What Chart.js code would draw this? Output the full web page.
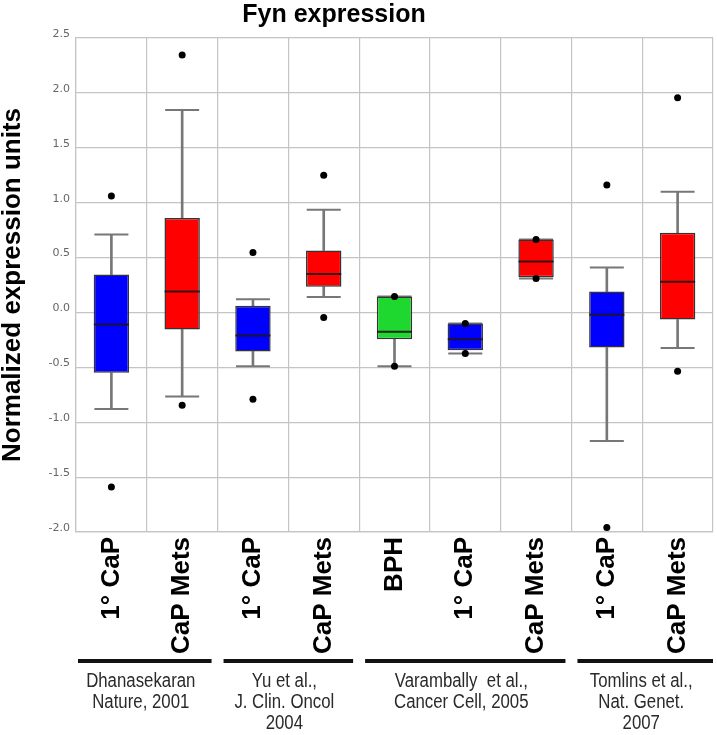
<!DOCTYPE html>
<html lang="en">
<head>
    <meta charset="UTF-8">
    <script src="https://cdn.jsdelivr.net/npm/chart.js@4.4.0/dist/chart.umd.min.js"></script>
    <title>Fyn expression</title>
    <style>
        html, body { margin: 0; padding: 0; background: #fff; }
        #wrap { width: 717px; height: 735px; }
    </style>
</head>
<body>
    <div id="wrap"><canvas id="chart" width="717" height="735"></canvas></div>
    <script>

        // data
        const categories = ['1° CaP', 'CaP Mets', '1° CaP', 'CaP Mets', 'BPH', '1° CaP', 'CaP Mets', '1° CaP', 'CaP Mets'];
        const sampleType = ['primary', 'mets', 'primary', 'mets', 'bph', 'primary', 'mets', 'primary', 'mets'];
        const whiskerLow  = [-0.88, -0.765, -0.49, 0.14, -0.49, -0.375, 0.31, -1.17, -0.325];
        const q1          = [-0.55, -0.155, -0.355, 0.235, -0.245, -0.345, 0.32, -0.32, -0.065];
        const median      = [-0.11, 0.19, -0.21, 0.35, -0.175, -0.245, 0.465, -0.02, 0.28];
        const q3          = [0.345, 0.86, 0.06, 0.565, 0.145, -0.10, 0.665, 0.19, 0.725];
        const whiskerHigh = [0.71, 1.845, 0.12, 0.935, 0.145, -0.10, 0.665, 0.41, 1.10];
        const outlierHigh = [1.06, 2.345, 0.545, 1.25, 0.145, -0.10, 0.665, 1.16, 1.955];
        const outlierLow  = [-1.59, -0.845, -0.79, -0.045, -0.49, -0.375, 0.31, -1.96, -0.535];
        const yTicks = [-2.0, -1.5, -1.0, -0.5, 0.0, 0.5, 1.0, 1.5, 2.0, 2.5];
        const studies = [
            ['Dhanasekaran', 'Nature, 2001'],
            ['Yu et al.,', 'J. Clin. Oncol', '2004'],
            ['Varambally  et al.,', 'Cancer Cell, 2005'],
            ['Tomlins et al.,', 'Nat. Genet.', '2007']
        ];
        const studySize = [2, 2, 3, 2];

        const typeColor = { primary: '#0000ff', mets: '#ff0000', bph: '#1fd82f' };
        const whiskerColor = '#777777';
        const gridColor = '#c4c4c4';
        const boldFont = "'Liberation Sans', Arial, sans-serif";

        // title drawn by hand so it can sit left of centre like the original
        const titlePlugin = {
            id: 'fynTitle',
            afterDraw(chart) {
                const ctx = chart.ctx;
                ctx.save();
                ctx.font = 'bold 25px ' + boldFont;
                ctx.fillStyle = '#000';
                ctx.textAlign = 'center';
                ctx.textBaseline = 'alphabetic';
                ctx.fillText('Fyn expression', 334, 22);
                ctx.restore();
            }
        };

        // study bars + citation text under the x labels
        const studyPlugin = {
            id: 'studies',
            afterDraw(chart) {
                const ctx = chart.ctx;
                const x = chart.scales.x;
                const bottom = chart.chartArea.bottom;
                const half = (x.getPixelForValue(1) - x.getPixelForValue(0)) / 2;
                const squeeze = 0.84;   // narrow-looking font
                ctx.save();
                let start = 0;
                studies.forEach((lines, g) => {
                    const end = start + studySize[g] - 1;
                    const left = x.getPixelForValue(start) - half + (start === 0 ? 2 : 6);
                    const right = x.getPixelForValue(end) + half - (end === categories.length - 1 ? 0 : 6);
                    ctx.fillStyle = '#111';
                    ctx.fillRect(left, bottom + 127, right - left, 4);
                    const cx = (left + right) / 2 - 4;
                    ctx.save();
                    ctx.scale(squeeze, 1);
                    ctx.font = "20px 'Liberation Sans', Arial, sans-serif";
                    ctx.fillStyle = '#2a2a2a';
                    ctx.textAlign = 'center';
                    ctx.textBaseline = 'alphabetic';
                    lines.forEach((t, i) => ctx.fillText(t, cx / squeeze, bottom + 155 + i * 21));
                    ctx.restore();
                    start = end + 1;
                });
                ctx.restore();
            }
        };

        const boxColors = sampleType.map(t => typeColor[t]);

        const ctx = document.getElementById('chart').getContext('2d');
        const chart = new Chart(ctx, {
            type: 'bar',
            data: {
                labels: categories.map((c, i) => String(i)),
                datasets: [
                    {
                        label: 'outliers high',
                        type: 'line',
                        data: outlierHigh,
                        showLine: false,
                        pointRadius: 3.5,
                        pointBackgroundColor: '#000',
                        pointBorderWidth: 0,
                        order: 0
                    },
                    {
                        label: 'outliers low',
                        type: 'line',
                        data: outlierLow,
                        showLine: false,
                        pointRadius: 3.5,
                        pointBackgroundColor: '#000',
                        pointBorderWidth: 0,
                        order: 0
                    },
                    {
                        label: 'median',
                        type: 'line',
                        data: median,
                        showLine: false,
                        pointStyle: 'line',
                        pointRadius: 17.5,
                        pointBorderColor: 'rgba(30,20,20,0.9)',
                        pointBorderWidth: 2,
                        order: 1
                    },
                    {
                        label: 'box',
                        data: q1.map((v, i) => [v, q3[i]]),
                        backgroundColor: boxColors,
                        borderColor: '#333',
                        borderWidth: 1.5,
                        borderSkipped: false,
                        grouped: false,
                        barPercentage: 0.5,
                        categoryPercentage: 1,
                        order: 2
                    },
                    {
                        label: 'lower whisker',
                        data: whiskerLow.map((v, i) => [v, q1[i]]),
                        backgroundColor: whiskerColor,
                        barThickness: 2,
                        grouped: false,
                        order: 3
                    },
                    {
                        label: 'upper whisker',
                        data: q3.map((v, i) => [v, whiskerHigh[i]]),
                        backgroundColor: whiskerColor,
                        barThickness: 2,
                        grouped: false,
                        order: 3
                    },
                    {
                        label: 'lower cap',
                        type: 'line',
                        data: whiskerLow,
                        showLine: false,
                        pointStyle: 'line',
                        pointRadius: 17,
                        pointBorderColor: whiskerColor,
                        pointBorderWidth: 2,
                        order: 4
                    },
                    {
                        label: 'upper cap',
                        type: 'line',
                        data: whiskerHigh,
                        showLine: false,
                        pointStyle: 'line',
                        pointRadius: 17,
                        pointBorderColor: whiskerColor,
                        pointBorderWidth: 2,
                        order: 4
                    }
                ]
            },
            options: {
                responsive: false,
                animation: false,
                events: [],
                layout: { autoPadding: false, padding: { top: 38, right: 4, left: 0, bottom: 0 } },
                plugins: {
                    legend: { display: false },
                    tooltip: { enabled: false }
                },
                scales: {
                    x: {
                        offset: true,
                        afterFit(scale) {
                            scale.height = 203;
                            scale.paddingLeft = 0;
                            scale.paddingRight = 0;
                        },
                        grid: { color: gridColor, lineWidth: 1.2, drawTicks: false, offset: true },
                        border: { color: gridColor, width: 1.2 },
                        ticks: {
                            autoSkip: false,
                            maxRotation: 90,
                            minRotation: 90,
                            padding: 5,
                            color: '#000',
                            font: { family: boldFont, size: 26, weight: 'bold' },
                            callback: (v, i) => categories[i]
                        }
                    },
                    y: {
                        min: yTicks[0],
                        max: yTicks[yTicks.length - 1],
                        afterFit(scale) { scale.width = 76; },
                        afterBuildTicks(scale) { scale.ticks = yTicks.map(v => ({ value: v })); },
                        grid: { color: gridColor, lineWidth: 1.2, drawTicks: false },
                        border: { color: gridColor, width: 1.2 },
                        ticks: {
                            padding: 6,
                            labelOffset: -4,
                            color: '#666',
                            font: { family: "'DejaVu Sans', Verdana, sans-serif", size: 11 },
                            callback: v => Number(v).toFixed(1)
                        },
                        title: {
                            display: true,
                            text: 'Normalized expression units',
                            color: '#000',
                            padding: { top: 0, bottom: 0 },
                            font: { family: boldFont, size: 26, weight: 'bold', lineHeight: 1 }
                        }
                    }
                }
            },
            plugins: [titlePlugin, studyPlugin]
        });

    </script>
</body>
</html>
